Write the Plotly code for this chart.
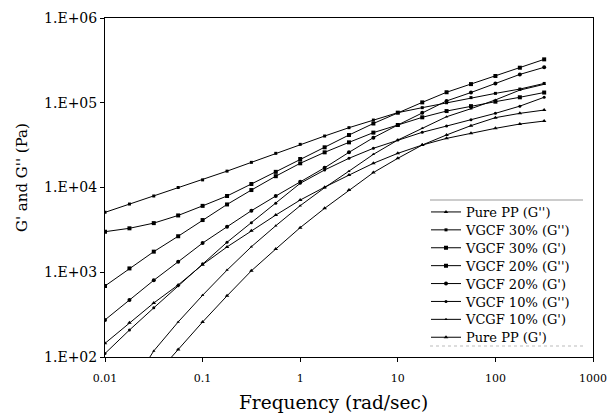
import plotly.graph_objects as go

freq = [0.01, 0.0178, 0.0316, 0.0562, 0.1, 0.178, 0.316, 0.562, 1, 1.78,
        3.16, 5.62, 10, 17.8, 31.6, 56.2, 100, 178, 316]

pp_g2 = [145, 254, 434, 708, 1230, 1990, 3090, 4730, 7110, 10100, 14000,
         19300, 25300, 31700, 38000, 43700, 49900, 56100, 60800]
v30_g2 = [5090, 6380, 7940, 10000, 12300, 15600, 19800, 25300, 32300, 40500,
          50800, 62500, 76400, 87500, 100000, 115000, 129000, 145000, 169000]
v30_g1 = [3010, 3300, 3800, 4680, 6070, 7940, 11000, 15300, 21700, 29800,
          41600, 56900, 76400, 101000, 133000, 166000, 207000, 259000, 325000]
v20_g2 = [689, 1110, 1750, 2660, 4130, 6310, 9330, 13600, 19300, 26000,
          34100, 44400, 54600, 67300, 79800, 91200, 103000, 116000, 132000]
v20_g1 = [274, 471, 804, 1330, 2210, 3440, 5320, 7930, 11700, 17100, 26000,
          38700, 54600, 76400, 105000, 132000, 169000, 216000, 262000]
v10_g2 = [110, 208, 380, 692, 1260, 2260, 3850, 6500, 11200, 16100, 22100,
          29000, 36300, 44800, 53100, 63100, 75000, 91200, 116000]
v10_g1 = [16, 42, 118, 259, 535, 1060, 2000, 3540, 6100, 9950, 15600, 24600,
          36300, 49900, 68400, 85100, 108000, 141000, 165000]
pp_g1 = [10, 25, 58, 123, 259, 527, 1040, 1880, 3360, 5680, 9330, 15000,
         22100, 31700, 41700, 53700, 66700, 75000, 82000]

series = [
    ("Pure PP (G'')", pp_g2, "triangle-up", 4),
    ("VGCF 30% (G'')", v30_g2, "square", 3),
    ("VGCF 30% (G')", v30_g1, "square", 4),
    ("VGCF 20% (G'')", v20_g2, "square", 4),
    ("VGCF 20% (G')", v20_g1, "circle", 4),
    ("VGCF 10% (G'')", v10_g2, "circle", 3),
    ("VCGF 10% (G')", v10_g1, "triangle-up", 3),
    ("Pure PP (G')", pp_g1, "triangle-up", 4),
]

x_ticks = [0.01, 0.1, 1, 10, 100, 1000]
x_ticktext = ["0.01", "0.1", "1", "10", "100", "1000"]
y_ticks = [1e2, 1e3, 1e4, 1e5, 1e6]
y_ticktext = ["1.E+02", "1.E+03", "1.E+04", "1.E+05", "1.E+06"]
x_title = "Frequency (rad/sec)"
y_title = "G' and G'' (Pa)"

FONT = "DejaVu Serif, serif"
PW, PH = 488, 339  # plot area size in px (left 105, top 18)


def px_x(px):
    return (px - 105) / PW


def px_y(py):
    return (357 - py) / PH


fig = go.Figure()
layout_legends = {}
for i, (name, vals, sym, sz) in enumerate(series):
    key = "legend" if i == 0 else f"legend{i + 1}"
    fig.add_trace(go.Scatter(
        x=freq, y=vals, name=name, mode="lines+markers",
        line=dict(color="black", width=1),
        marker=dict(symbol=sym, size=sz, color="black"),
        legend=key,
    ))
    layout_legends[key] = dict(
        x=px_x(426), y=px_y(212 + 17.9 * i), xanchor="left", yanchor="middle",
        bgcolor="rgba(255,255,255,0)", borderwidth=0,
        font=dict(family=FONT, size=13, color="black"),
        itemwidth=30,
    )

fig.update_layout(
    width=609, height=420,
    margin=dict(l=105, r=16, t=18, b=63, autoexpand=False),
    paper_bgcolor="white", plot_bgcolor="white",
    font=dict(family=FONT, color="black"),
    showlegend=True,
    xaxis=dict(
        type="log", range=[-2, 3], tickvals=x_ticks, ticktext=x_ticktext,
        showgrid=False, zeroline=False, showline=True, linecolor="black",
        linewidth=1, mirror=True, ticks="outside", ticklen=4,
        tickcolor="black", tickfont=dict(size=11), automargin=False,
        ticklabelstandoff=7,
    ),
    yaxis=dict(
        type="log", range=[2, 6], tickvals=y_ticks, ticktext=y_ticktext,
        showgrid=False, zeroline=False, showline=True, linecolor="black",
        linewidth=1, mirror=True, ticks="outside", ticklen=4,
        tickcolor="black", tickfont=dict(size=14), automargin=False,
    ),
    annotations=[
        dict(text=x_title, xref="paper", yref="paper",
             x=px_x(333), y=px_y(403), xanchor="center", yanchor="middle",
             showarrow=False, font=dict(size=18.5)),
        dict(text=y_title, xref="paper", yref="paper", textangle=-90,
             x=px_x(22), y=px_y(178), xanchor="center", yanchor="middle",
             showarrow=False, font=dict(size=15)),
    ],
    shapes=[
        dict(type="line", xref="paper", yref="paper",
             x0=px_x(430), x1=px_x(583), y0=px_y(200), y1=px_y(200),
             line=dict(color="#999999", width=1)),
        dict(type="line", xref="paper", yref="paper",
             x0=px_x(430), x1=px_x(583), y0=px_y(346), y1=px_y(346),
             line=dict(color="#bbbbbb", width=1, dash="dot")),
    ],
    **layout_legends,
)

# remove the default 8px page margin so the figure sits at the window corner
fig.write_html("out.html", config={"displayModeBar": False},
               post_script="document.body.style.margin='0px';")
